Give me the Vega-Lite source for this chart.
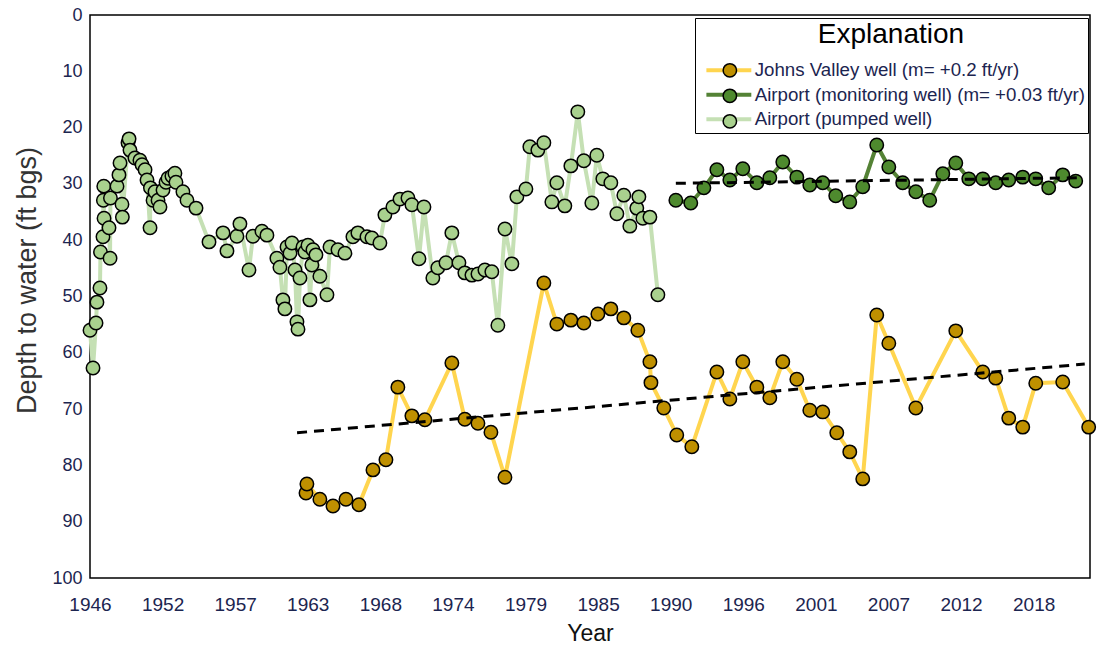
{
  "$schema": "https://vega.github.io/schema/vega-lite/v6.json",
  "width": 1000,
  "height": 563,
  "autosize": {"type": "none"},
  "padding": {"left": 90, "top": 15, "right": 7, "bottom": 68},
  "background": "white",
  "config": {"view": {"stroke": "#000", "strokeWidth": 1.5}, "font": "Liberation Sans"},
  "datasets": {
    "obs": [
      {"s":"jv","x":1962.48,"y":84.9},{"s":"jv","x":1962.55,"y":83.3},{"s":"jv","x":1963.54,"y":86.0},{"s":"jv","x":1964.54,"y":87.2},{"s":"jv","x":1965.53,"y":86.0},{"s":"jv","x":1966.52,"y":87.0},{"s":"jv","x":1967.59,"y":80.8},{"s":"jv","x":1968.58,"y":79.0},{"s":"jv","x":1969.49,"y":66.1},{"s":"jv","x":1970.56,"y":71.2},{"s":"jv","x":1971.55,"y":71.9},{"s":"jv","x":1973.61,"y":61.8},{"s":"jv","x":1974.60,"y":71.8},{"s":"jv","x":1975.60,"y":72.5},{"s":"jv","x":1976.59,"y":74.1},{"s":"jv","x":1977.66,"y":82.1},{"s":"jv","x":1980.63,"y":47.6},{"s":"jv","x":1981.62,"y":54.9},{"s":"jv","x":1982.69,"y":54.2},{"s":"jv","x":1983.68,"y":54.7},{"s":"jv","x":1984.75,"y":53.1},{"s":"jv","x":1985.74,"y":52.2},{"s":"jv","x":1986.73,"y":53.8},{"s":"jv","x":1987.80,"y":56.0},{"s":"jv","x":1988.72,"y":61.6},{"s":"jv","x":1988.80,"y":65.3},{"s":"jv","x":1989.78,"y":69.8},{"s":"jv","x":1990.77,"y":74.6},{"s":"jv","x":1991.92,"y":76.7},{"s":"jv","x":1993.83,"y":63.4},{"s":"jv","x":1994.82,"y":68.2},{"s":"jv","x":1995.81,"y":61.6},{"s":"jv","x":1996.88,"y":66.1},{"s":"jv","x":1997.87,"y":68.0},{"s":"jv","x":1998.86,"y":61.6},{"s":"jv","x":1999.93,"y":64.7},{"s":"jv","x":2000.92,"y":70.2},{"s":"jv","x":2001.91,"y":70.5},{"s":"jv","x":2002.98,"y":74.2},{"s":"jv","x":2003.97,"y":77.6},{"s":"jv","x":2004.96,"y":82.4},{"s":"jv","x":2006.03,"y":53.3},{"s":"jv","x":2006.95,"y":58.3},{"s":"jv","x":2009.01,"y":69.8},{"s":"jv","x":2012.06,"y":56.1},{"s":"jv","x":2014.12,"y":63.4},{"s":"jv","x":2015.11,"y":64.5},{"s":"jv","x":2016.10,"y":71.6},{"s":"jv","x":2017.17,"y":73.2},{"s":"jv","x":2018.16,"y":65.4},{"s":"jv","x":2020.22,"y":65.2},{"s":"jv","x":2022.20,"y":73.2},
      {"s":"mw","x":1990.70,"y":32.9},{"s":"mw","x":1991.84,"y":33.4},{"s":"mw","x":1992.84,"y":30.7},{"s":"mw","x":1993.83,"y":27.5},{"s":"mw","x":1994.82,"y":29.3},{"s":"mw","x":1995.81,"y":27.3},{"s":"mw","x":1996.88,"y":29.8},{"s":"mw","x":1997.87,"y":28.9},{"s":"mw","x":1998.86,"y":26.1},{"s":"mw","x":1999.93,"y":28.8},{"s":"mw","x":2000.92,"y":30.2},{"s":"mw","x":2001.91,"y":29.8},{"s":"mw","x":2002.90,"y":32.1},{"s":"mw","x":2003.97,"y":33.2},{"s":"mw","x":2004.96,"y":30.5},{"s":"mw","x":2006.03,"y":23.1},{"s":"mw","x":2006.95,"y":27.0},{"s":"mw","x":2008.01,"y":29.8},{"s":"mw","x":2009.01,"y":31.4},{"s":"mw","x":2010.07,"y":32.9},{"s":"mw","x":2011.07,"y":28.2},{"s":"mw","x":2012.06,"y":26.3},{"s":"mw","x":2013.05,"y":29.1},{"s":"mw","x":2014.12,"y":29.1},{"s":"mw","x":2015.11,"y":29.8},{"s":"mw","x":2016.10,"y":29.3},{"s":"mw","x":2017.17,"y":28.8},{"s":"mw","x":2018.16,"y":29.1},{"s":"mw","x":2019.15,"y":30.7},{"s":"mw","x":2020.22,"y":28.4},{"s":"mw","x":2021.21,"y":29.5},
      {"s":"pw","x":1946.00,"y":56.0},{"s":"pw","x":1946.23,"y":62.7},{"s":"pw","x":1946.46,"y":54.7},{"s":"pw","x":1946.53,"y":51.0},{"s":"pw","x":1946.76,"y":48.5},{"s":"pw","x":1946.80,"y":42.1},{"s":"pw","x":1946.99,"y":39.4},{"s":"pw","x":1947.02,"y":32.9},{"s":"pw","x":1947.05,"y":30.4},{"s":"pw","x":1947.07,"y":36.1},{"s":"pw","x":1947.45,"y":37.8},{"s":"pw","x":1947.53,"y":43.2},{"s":"pw","x":1947.56,"y":32.5},{"s":"pw","x":1948.06,"y":30.4},{"s":"pw","x":1948.21,"y":28.4},{"s":"pw","x":1948.29,"y":26.3},{"s":"pw","x":1948.44,"y":33.6},{"s":"pw","x":1948.47,"y":35.9},{"s":"pw","x":1948.90,"y":22.7},{"s":"pw","x":1948.98,"y":22.0},{"s":"pw","x":1949.05,"y":24.0},{"s":"pw","x":1949.43,"y":25.4},{"s":"pw","x":1949.81,"y":25.8},{"s":"pw","x":1949.97,"y":26.6},{"s":"pw","x":1950.20,"y":27.5},{"s":"pw","x":1950.35,"y":29.3},{"s":"pw","x":1950.58,"y":37.8},{"s":"pw","x":1950.61,"y":30.7},{"s":"pw","x":1950.81,"y":32.9},{"s":"pw","x":1950.96,"y":31.4},{"s":"pw","x":1951.19,"y":32.9},{"s":"pw","x":1951.34,"y":34.1},{"s":"pw","x":1951.57,"y":31.1},{"s":"pw","x":1951.80,"y":29.7},{"s":"pw","x":1951.95,"y":29.0},{"s":"pw","x":1952.25,"y":28.6},{"s":"pw","x":1952.48,"y":28.1},{"s":"pw","x":1952.56,"y":29.7},{"s":"pw","x":1953.09,"y":31.4},{"s":"pw","x":1953.40,"y":32.9},{"s":"pw","x":1954.09,"y":34.3},{"s":"pw","x":1955.08,"y":40.3},{"s":"pw","x":1956.15,"y":38.7},{"s":"pw","x":1956.45,"y":41.9},{"s":"pw","x":1957.21,"y":39.3},{"s":"pw","x":1957.44,"y":37.1},{"s":"pw","x":1958.13,"y":45.3},{"s":"pw","x":1958.43,"y":39.3},{"s":"pw","x":1959.12,"y":38.4},{"s":"pw","x":1959.50,"y":39.1},{"s":"pw","x":1960.26,"y":43.2},{"s":"pw","x":1960.49,"y":44.8},{"s":"pw","x":1960.72,"y":50.6},{"s":"pw","x":1960.87,"y":52.2},{"s":"pw","x":1961.03,"y":41.2},{"s":"pw","x":1961.26,"y":42.3},{"s":"pw","x":1961.41,"y":40.5},{"s":"pw","x":1961.64,"y":45.3},{"s":"pw","x":1961.79,"y":54.5},{"s":"pw","x":1961.87,"y":55.8},{"s":"pw","x":1962.02,"y":46.7},{"s":"pw","x":1962.25,"y":41.2},{"s":"pw","x":1962.40,"y":42.1},{"s":"pw","x":1962.63,"y":40.9},{"s":"pw","x":1962.78,"y":50.6},{"s":"pw","x":1962.93,"y":44.4},{"s":"pw","x":1963.01,"y":41.7},{"s":"pw","x":1963.24,"y":42.6},{"s":"pw","x":1963.54,"y":46.4},{"s":"pw","x":1964.08,"y":49.7},{"s":"pw","x":1964.31,"y":41.2},{"s":"pw","x":1964.92,"y":41.7},{"s":"pw","x":1965.45,"y":42.3},{"s":"pw","x":1966.06,"y":39.4},{"s":"pw","x":1966.44,"y":38.7},{"s":"pw","x":1967.13,"y":39.4},{"s":"pw","x":1967.51,"y":39.6},{"s":"pw","x":1968.12,"y":40.5},{"s":"pw","x":1968.50,"y":35.5},{"s":"pw","x":1969.11,"y":34.1},{"s":"pw","x":1969.65,"y":32.7},{"s":"pw","x":1970.26,"y":32.5},{"s":"pw","x":1970.56,"y":33.7},{"s":"pw","x":1971.10,"y":43.3},{"s":"pw","x":1971.48,"y":34.1},{"s":"pw","x":1972.16,"y":46.7},{"s":"pw","x":1972.54,"y":44.9},{"s":"pw","x":1973.16,"y":44.0},{"s":"pw","x":1973.61,"y":38.7},{"s":"pw","x":1974.15,"y":44.0},{"s":"pw","x":1974.60,"y":45.8},{"s":"pw","x":1975.14,"y":46.2},{"s":"pw","x":1975.60,"y":46.0},{"s":"pw","x":1976.13,"y":45.3},{"s":"pw","x":1976.66,"y":45.6},{"s":"pw","x":1977.12,"y":55.1},{"s":"pw","x":1977.66,"y":38.0},{"s":"pw","x":1978.19,"y":44.2},{"s":"pw","x":1978.57,"y":32.3},{"s":"pw","x":1979.26,"y":30.9},{"s":"pw","x":1979.56,"y":23.4},{"s":"pw","x":1980.17,"y":24.0},{"s":"pw","x":1980.63,"y":22.7},{"s":"pw","x":1981.24,"y":33.2},{"s":"pw","x":1981.62,"y":29.8},{"s":"pw","x":1982.23,"y":33.9},{"s":"pw","x":1982.69,"y":26.8},{"s":"pw","x":1983.22,"y":17.2},{"s":"pw","x":1983.68,"y":25.9},{"s":"pw","x":1984.29,"y":33.4},{"s":"pw","x":1984.67,"y":24.9},{"s":"pw","x":1985.13,"y":29.1},{"s":"pw","x":1985.74,"y":29.8},{"s":"pw","x":1986.20,"y":35.3},{"s":"pw","x":1986.73,"y":32.0},{"s":"pw","x":1987.19,"y":37.5},{"s":"pw","x":1987.72,"y":34.3},{"s":"pw","x":1987.88,"y":32.3},{"s":"pw","x":1988.18,"y":36.1},{"s":"pw","x":1988.72,"y":35.9},{"s":"pw","x":1989.33,"y":49.7}
    ],
    "trend": [
      {"t":"jv","x":1961.8,"y":74.2},{"t":"jv","x":2021.9,"y":62.0},
      {"t":"mw","x":1990.7,"y":29.9},{"t":"mw","x":2021.6,"y":28.9}
    ]
  },
  "layer": [
    {
      "data": {"name": "obs"},
      "mark": {"type": "line", "strokeWidth": 4},
      "encoding": {
        "x": {"field": "x", "type": "quantitative", "scale": {"domain": [1946, 2022.3], "nice": false, "zero": false},
          "axis": {"title": "Year", "values": [1946, 1951.538, 1957.077, 1962.615, 1968.154, 1973.692, 1979.231, 1984.769, 1990.308, 1995.846, 2001.385, 2006.923, 2012.462, 2018],
            "labelExpr": "format(datum.value, '.0f')", "labelFlush": false, "labelOverlap": false, "grid": false, "ticks": false, "tickSize": 0, "domain": false,
            "labelFontSize": 19, "labelColor": "#1c2550", "labelPadding": 17, "labelFont": "Liberation Sans",
            "titleFontSize": 23, "titleFontWeight": "normal", "titleColor": "#111", "titlePadding": 8, "titleFont": "Liberation Sans"}},
        "y": {"field": "y", "type": "quantitative", "scale": {"domain": [0, 100], "reverse": true, "nice": false},
          "axis": {"title": "Depth to water (ft bgs)", "values": [0,10,20,30,40,50,60,70,80,90,100], "labelFlush": false, "grid": false, "ticks": false, "tickSize": 0, "domain": false,
            "labelFontSize": 18, "labelColor": "#1c2550", "labelPadding": 8, "labelFont": "Liberation Sans",
            "titleFontSize": 27, "titleFontWeight": "normal", "titleColor": "#333", "titlePadding": 10, "titleY": 265, "titleFont": "Liberation Sans"}},
        "stroke": {"field": "s", "type": "nominal",
          "scale": {"domain": ["jv", "mw", "pw"], "range": ["#FFD54F", "#548235", "#C5E0B4"]},
          "legend": {"orient": "none", "legendX": 605, "legendY": 3, "title": "Explanation", "titleFontSize": 28, "titleFontWeight": "normal", "titleColor": "#000", "titleAnchor": "middle", "titlePadding": 12, "titleFont": "Liberation Sans",
            "labelExpr": "datum.value == 'jv' ? 'Johns Valley well (m= +0.2 ft/yr)' : datum.value == 'mw' ? 'Airport (monitoring well) (m= +0.03 ft/yr)' : 'Airport (pumped well)'",
            "labelFontSize": 18.7, "labelColor": "#1c2550", "labelFont": "Liberation Sans", "labelLimit": 600,
            "symbolType": "M-7.1,0H7.1", "symbolSize": 40, "symbolStrokeWidth": 4, "symbolOffset": 21.5, "labelOffset": 16.5,
            "padding": 3, "rowPadding": 4.5, "strokeColor": "#000", "zindex": 1}}
      }
    },
    {
      "data": {"name": "obs"},
      "mark": {"type": "circle", "size": 180, "stroke": "#000", "strokeWidth": 1.5, "opacity": 1},
      "encoding": {
        "x": {"field": "x", "type": "quantitative"},
        "y": {"field": "y", "type": "quantitative"},
        "fill": {"field": "s", "type": "nominal",
          "scale": {"range": ["#BF9000", "#4E8A2E", "#A9D18E"]},
          "legend": {"orient": "none", "legendX": 605, "legendY": 3, "title": " ", "titleFontSize": 28, "titleFontWeight": "normal", "titleOpacity": 0, "titleAnchor": "middle", "titlePadding": 12, "titleFont": "Liberation Sans",
            "labelExpr": "' '",
            "labelFontSize": 18.7, "labelOpacity": 0, "labelFont": "Liberation Sans", "labelLimit": 600,
            "symbolType": "circle", "symbolSize": 180, "symbolStrokeColor": "#000", "symbolStrokeWidth": 1.5, "symbolOffset": 22.5, "labelOffset": 5,
            "padding": 3, "rowPadding": 4.5, "zindex": 2}}
      }
    },
    {
      "data": {"name": "trend"},
      "mark": {"type": "line", "strokeWidth": 3, "strokeDash": [10, 7], "color": "#000"},
      "encoding": {
        "x": {"field": "x", "type": "quantitative"},
        "y": {"field": "y", "type": "quantitative"},
        "detail": {"field": "t", "type": "nominal"}
      }
    }
  ]
}
